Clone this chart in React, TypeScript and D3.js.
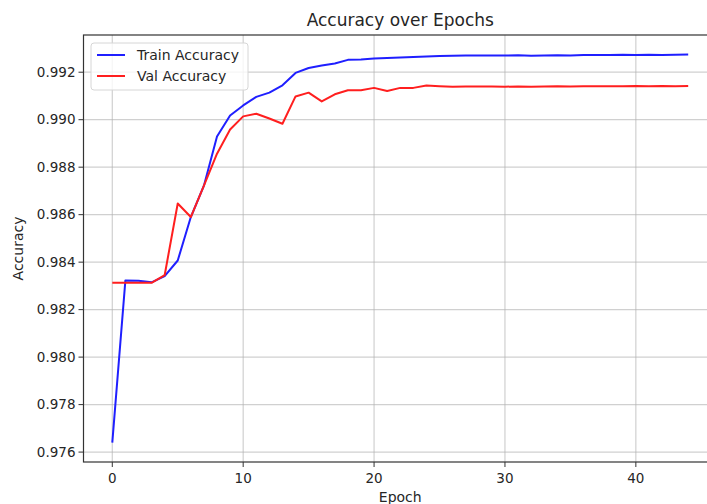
import { useEffect, useRef } from 'react';
import { select, scaleLinear, line, range, min, max } from 'd3';

// Accuracy per epoch
const trainAccuracy = [
  0.9764, 0.98323, 0.98322, 0.98315, 0.98341, 0.98407, 0.9859, 0.98722, 0.98929, 0.99018,
  0.9906, 0.99096, 0.99114, 0.99145, 0.99197, 0.99218, 0.99228, 0.99237, 0.99252, 0.99254,
  0.99258, 0.9926, 0.99262, 0.99264, 0.99266, 0.99268, 0.99269, 0.9927, 0.9927, 0.9927,
  0.9927, 0.99271, 0.99269, 0.9927, 0.99271, 0.9927, 0.99272, 0.99272, 0.99273, 0.99274,
  0.99273, 0.99274, 0.99273, 0.99274, 0.99275,
];
const valAccuracy = [
  0.98313, 0.98313, 0.98313, 0.98313, 0.98345, 0.98647, 0.9859, 0.98722, 0.98857, 0.98959,
  0.99014, 0.99025, 0.99005, 0.98983, 0.99098, 0.99114, 0.99077, 0.99107, 0.99124, 0.99124,
  0.99134, 0.99121, 0.99134, 0.99134, 0.99144, 0.99141, 0.99139, 0.9914, 0.9914, 0.9914,
  0.99139, 0.9914, 0.99139, 0.9914, 0.99141, 0.9914, 0.99141, 0.99141, 0.99141, 0.99141,
  0.99142, 0.99141, 0.99142, 0.99141, 0.99142,
];
const xTicks = [0, 10, 20, 30, 40];
const yTicks = [0.976, 0.978, 0.98, 0.982, 0.984, 0.986, 0.988, 0.99, 0.992];
const seriesNames = ['Train Accuracy', 'Val Accuracy'];
const seriesColors = ['#1f1fff', '#ff1f1f'];

const FONT = 'DejaVu Sans, sans-serif';

function AccuracyChart() {
  const svgRef = useRef<SVGSVGElement>(null);

  useEffect(() => {
    if (!svgRef.current) return;
    const svg = select(svgRef.current);
    svg.selectAll('*').remove();

    const width = 707;
    const height = 504;
    const left = 83.5;
    const right = 717; // the plot box runs past the cropped edge
    const top = 35;
    const bottom = 462;

    const epochs = range(trainAccuracy.length);
    const xMax = epochs.length - 1;
    const xPad = xMax * 0.05;
    const lo = min([...trainAccuracy, ...valAccuracy]) as number;
    const hi = max([...trainAccuracy, ...valAccuracy]) as number;
    const yPad = (hi - lo) * 0.05;

    const x = scaleLinear().domain([-xPad, xMax + xPad]).range([left, right]);
    const y = scaleLinear().domain([lo - yPad, hi + yPad]).range([bottom, top]);

    svg.attr('width', width).attr('height', height);
    svg.append('rect').attr('width', width).attr('height', height).attr('fill', '#fff');

    // Grid
    const grid = svg.append('g').attr('stroke', '#b0b0b0').attr('stroke-opacity', 0.6).attr('stroke-width', 1.2);
    xTicks.forEach((t) => {
      grid.append('line').attr('x1', x(t)).attr('x2', x(t)).attr('y1', top).attr('y2', bottom);
    });
    yTicks.forEach((t) => {
      grid.append('line').attr('x1', left).attr('x2', right).attr('y1', y(t)).attr('y2', y(t));
    });

    // Lines
    const series = [trainAccuracy, valAccuracy];
    series.forEach((vals, i) => {
      const path = line<number>()
        .x((_, j) => x(epochs[j]))
        .y((d) => y(d));
      svg.append('path')
        .datum(vals)
        .attr('d', path)
        .attr('fill', 'none')
        .attr('stroke', seriesColors[i])
        .attr('stroke-width', 2)
        .attr('stroke-linejoin', 'round');
    });

    // Spines
    svg.append('rect')
      .attr('x', left)
      .attr('y', top)
      .attr('width', right - left)
      .attr('height', bottom - top)
      .attr('fill', 'none')
      .attr('stroke', '#333')
      .attr('stroke-width', 1.2);

    // Ticks
    const ticks = svg.append('g').attr('font-family', FONT).attr('font-size', 13.5).attr('fill', '#262626');
    xTicks.forEach((t) => {
      ticks.append('line').attr('x1', x(t)).attr('x2', x(t)).attr('y1', bottom).attr('y2', bottom + 5).attr('stroke', '#333');
      ticks.append('text').attr('x', x(t)).attr('y', bottom + 21).attr('text-anchor', 'middle').text(t);
    });
    yTicks.forEach((t) => {
      ticks.append('line').attr('x1', left - 5).attr('x2', left).attr('y1', y(t)).attr('y2', y(t)).attr('stroke', '#333');
      ticks.append('text').attr('x', left - 8).attr('y', y(t)).attr('dy', '0.35em').attr('text-anchor', 'end').text(t.toFixed(3));
    });

    // Labels
    svg.append('text')
      .attr('x', (left + right) / 2)
      .attr('y', 26)
      .attr('text-anchor', 'middle')
      .attr('font-family', FONT)
      .attr('font-size', 17)
      .attr('fill', '#262626')
      .text('Accuracy over Epochs');

    svg.append('text')
      .attr('x', (left + right) / 2)
      .attr('y', 502)
      .attr('text-anchor', 'middle')
      .attr('font-family', FONT)
      .attr('font-size', 14)
      .attr('fill', '#262626')
      .text('Epoch');

    svg.append('text')
      .attr('transform', `translate(23,${(top + bottom) / 2}) rotate(-90)`)
      .attr('text-anchor', 'middle')
      .attr('font-family', FONT)
      .attr('font-size', 14)
      .attr('fill', '#262626')
      .text('Accuracy');

    // Legend
    const legend = svg.append('g').attr('transform', 'translate(91,43)');
    legend.append('rect')
      .attr('width', 157)
      .attr('height', 47)
      .attr('rx', 3)
      .attr('fill', '#fff')
      .attr('fill-opacity', 0.8)
      .attr('stroke', '#d6d6d6');
    seriesNames.forEach((name, i) => {
      const ly = 12 + i * 21;
      legend.append('line')
        .attr('x1', 6).attr('x2', 34).attr('y1', ly).attr('y2', ly)
        .attr('stroke', seriesColors[i]).attr('stroke-width', 2);
      legend.append('text')
        .attr('x', 46).attr('y', ly).attr('dy', '0.35em')
        .attr('font-family', FONT).attr('font-size', 14).attr('fill', '#262626')
        .text(name);
    });
  }, []);

  return <svg ref={svgRef} style={{ display: 'block' }} />;
}

export default function App() {
  useEffect(() => {
    document.body.style.margin = '0';
  }, []);
  return <AccuracyChart />;
}
